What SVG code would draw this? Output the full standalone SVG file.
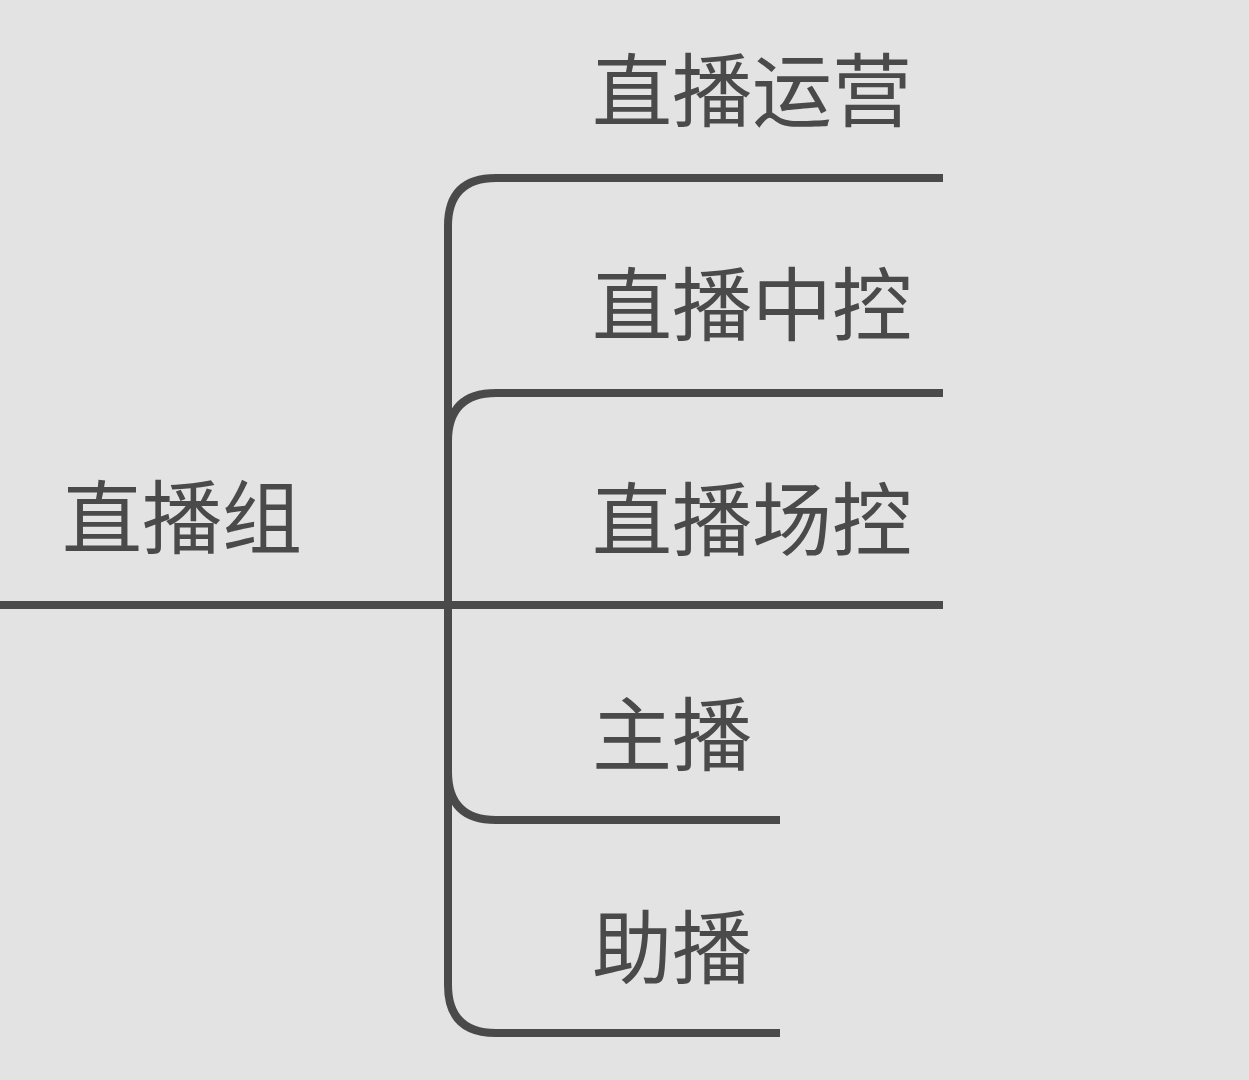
<svg xmlns="http://www.w3.org/2000/svg" width="1249" height="1080" viewBox="0 0 1249 1080">
<style>
.l{fill:none;stroke:#4a4a4a;stroke-width:8}
text{font-family:"Noto Sans CJK SC",sans-serif;font-size:80px;fill:#4a4a4a}
</style>
<rect width="1249" height="1080" fill="#e3e3e3"/>
<g id="connectors">
<path class="l" d="M0 605H943"/>
<path class="l" d="M943 178H496Q448 178 448 226V985Q448 1033 496 1033H780"/>
<path class="l" d="M943 393H496Q448 393 448 441"/>
<path class="l" d="M448 772Q448 820 496 820H780"/>
</g>
<g id="root"><text x="62" y="547">直播组</text></g>
<g id="n1"><text x="592" y="120">直播运营</text></g>
<g id="n2"><text x="592" y="334">直播中控</text></g>
<g id="n3"><text x="592" y="549">直播场控</text></g>
<g id="n4"><text x="592" y="764">主播</text></g>
<g id="n5"><text x="592" y="977">助播</text></g>
</svg>
